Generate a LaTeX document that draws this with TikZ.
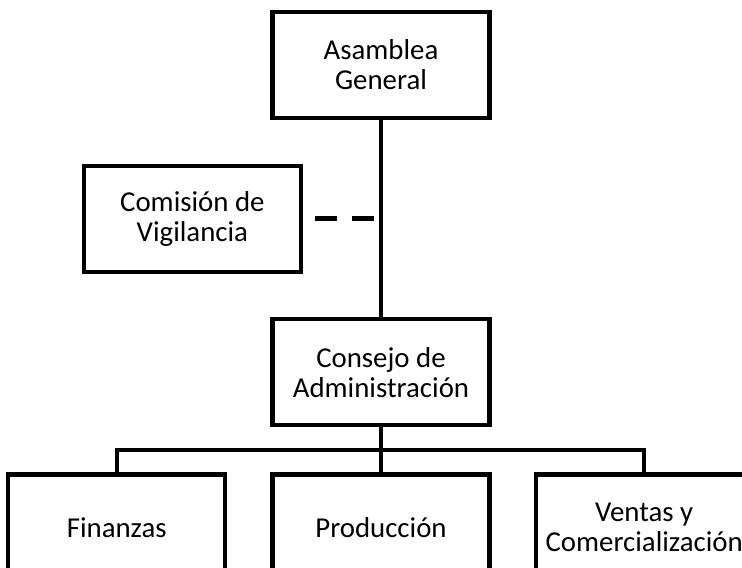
\documentclass[tikz,border=0pt]{standalone}
\usepackage{fontspec}
\setmainfont{Carlito}
\usetikzlibrary{positioning,calc}

\begin{document}
\begin{tikzpicture}[
    font=\fontsize{20.5}{21.3}\selectfont,
    unit/.style={draw=black, line width=3pt, rectangle, minimum width=5.425cm, minimum height=2.65cm, inner sep=2pt, align=center},
    link/.style={draw=black, line width=3.2pt},
    advice/.style={draw=black, line width=3.2pt, dash pattern=on 0.55cm off 0.375cm, dash phase=0.625cm}
]
\useasboundingbox (0,0) rectangle (18.55,-14.2);
\clip (0,0) rectangle (18.55,-14.2);

\node[unit] (asamblea) at (9.525,-1.625) {Asamblea\\General};
\node[unit, below=4.925cm of asamblea] (consejo) {Consejo de\\Administración};
\coordinate (vig) at ($(asamblea.south)!0.5!(consejo.north)$);
\node[unit, left=1.95cm of vig] (comision) {Comisión de\\Vigilancia};
\node[unit, below=1.125cm of consejo] (produccion) {Producción};
\node[unit, left=1.075cm of produccion] (finanzas) {Finanzas};
\node[unit, right=1.05cm of produccion] (ventas) {Ventas y\\Comercialización};

\draw[link] (asamblea) -- (consejo);
\draw[advice] (comision) -- (vig);
\draw[link] (consejo) -- (produccion);
\draw[link] (finanzas.north) -- ++(0,0.5625) -| (ventas.north);

\end{tikzpicture}
\end{document}
